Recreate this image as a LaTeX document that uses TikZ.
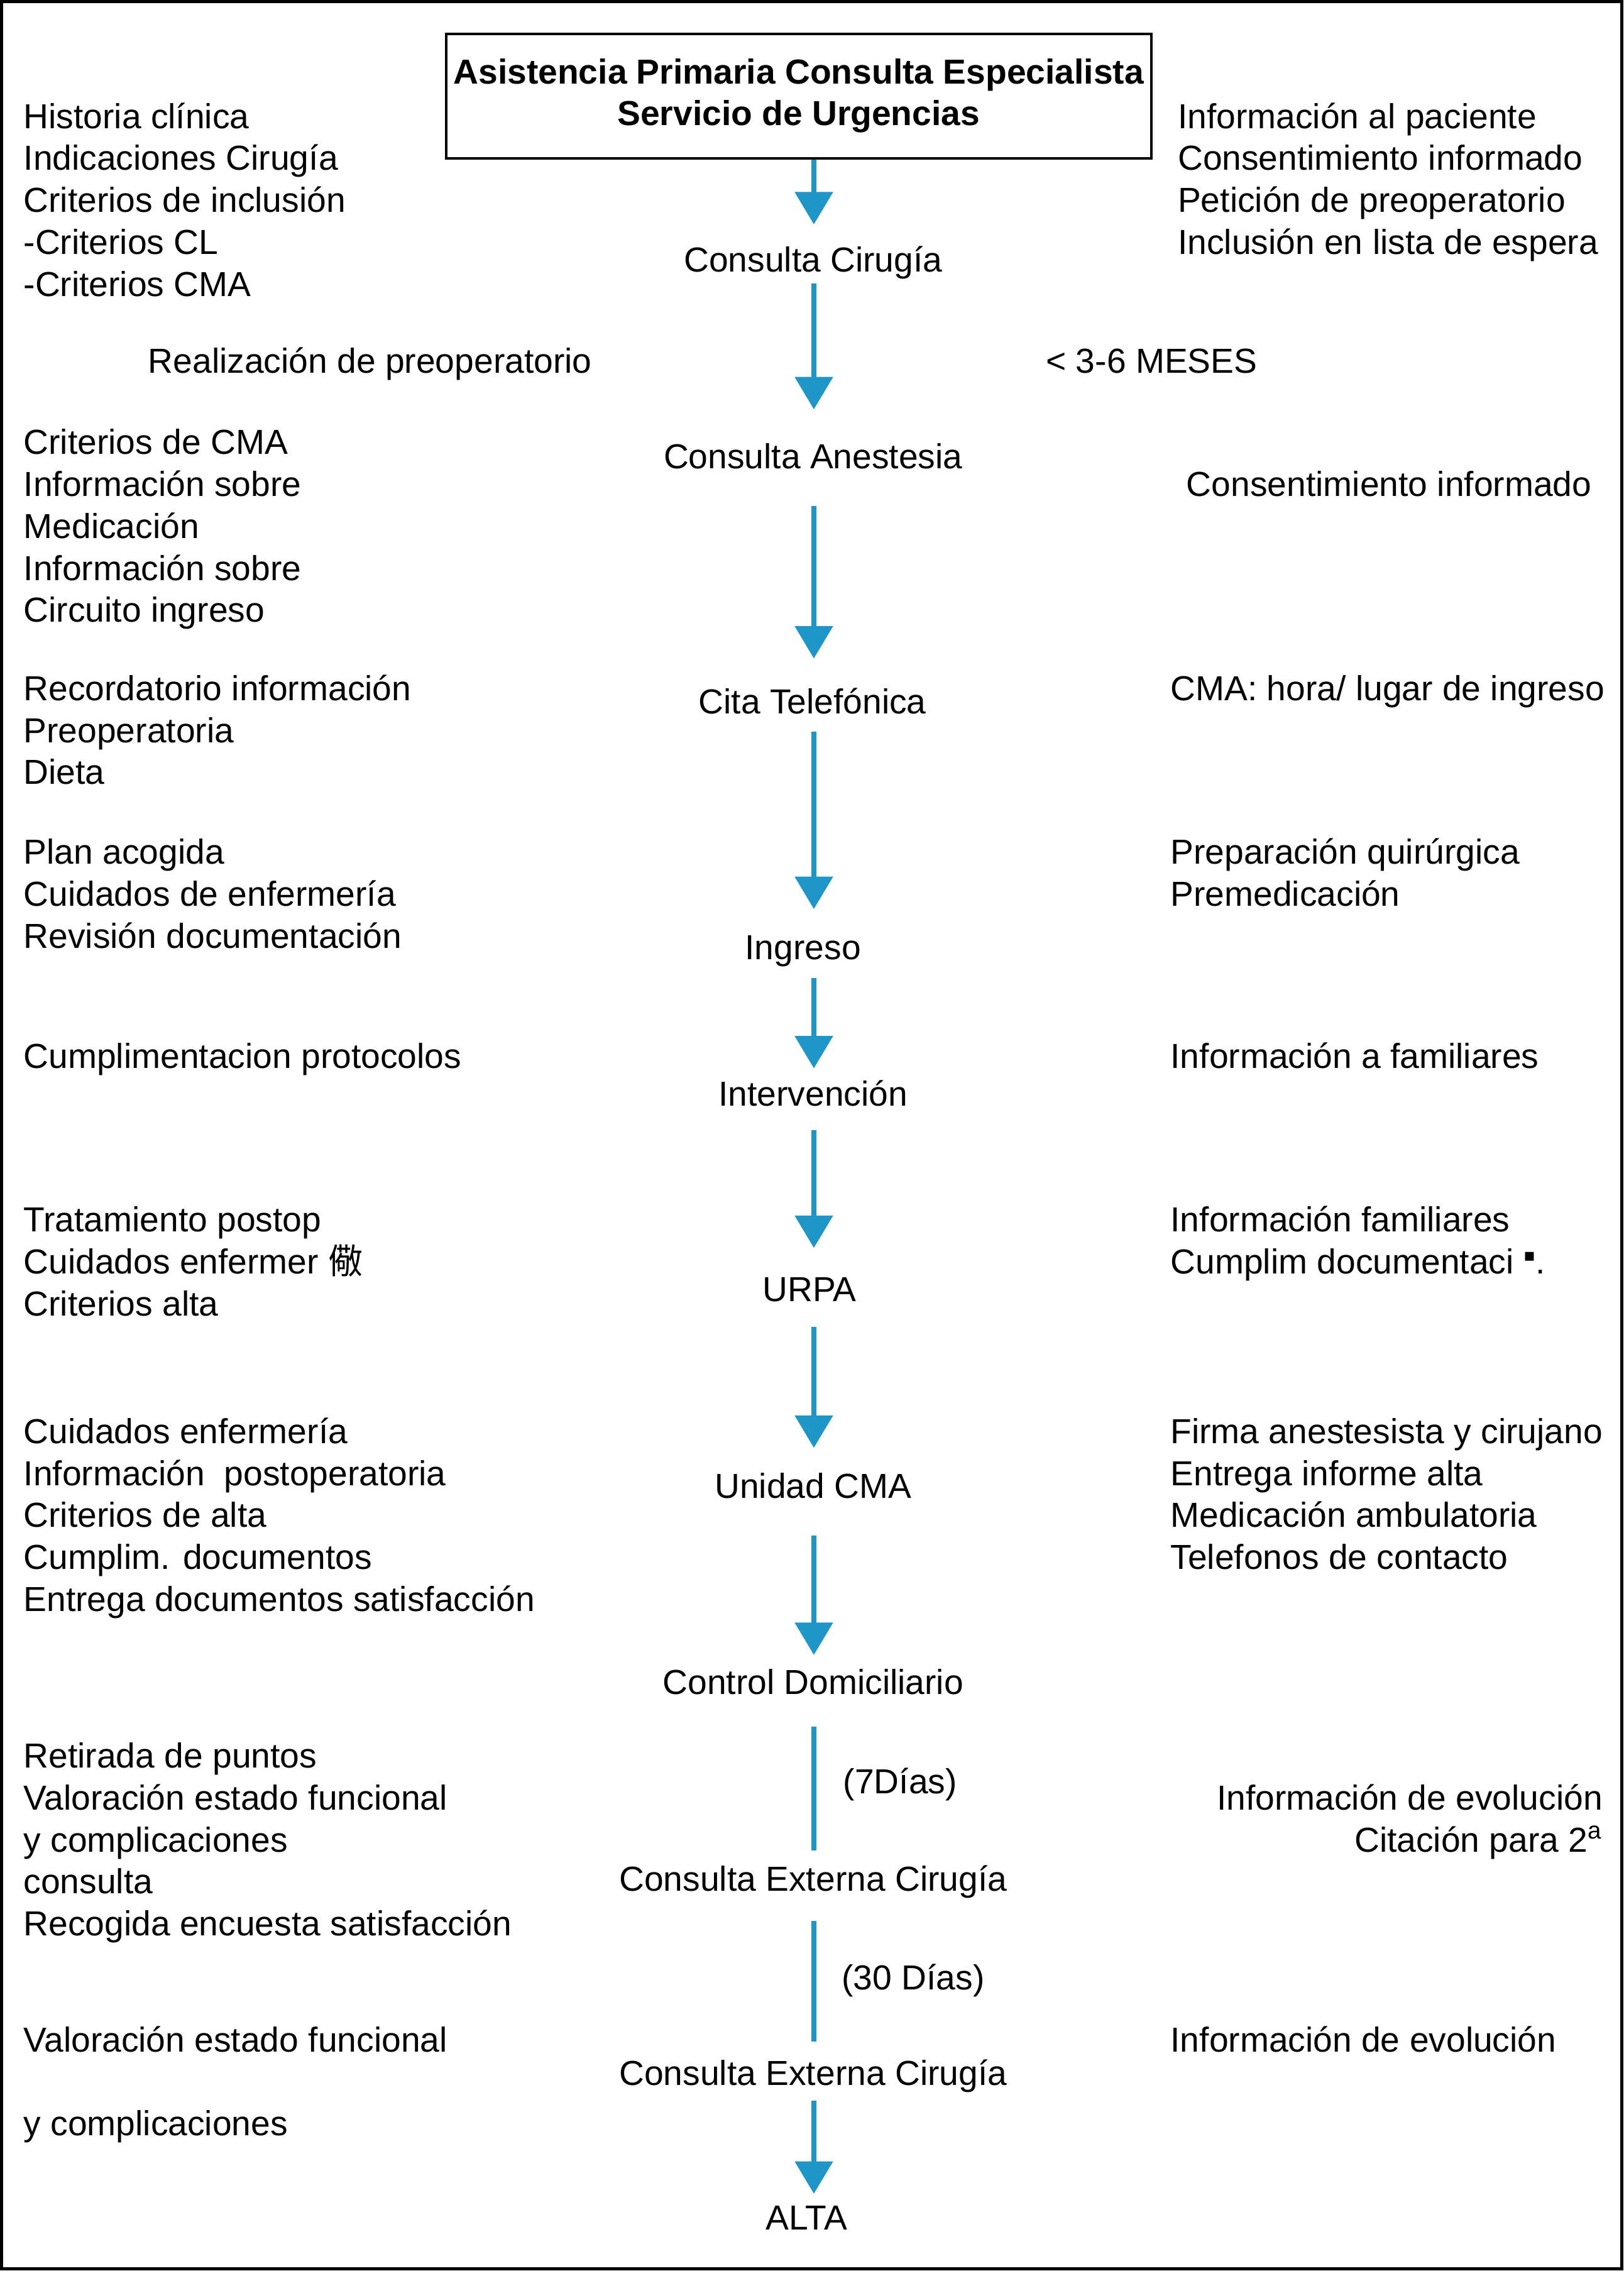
\documentclass[tikz,border=0pt]{standalone}
\usepackage{fontspec}
\setmainfont{Liberation Sans}
\newfontfamily\cjkfont{Noto Sans CJK SC}
\newfontfamily\dejavu{DejaVu Sans}
\usetikzlibrary{arrows.meta,calc}
\definecolor{flowblue}{RGB}{30,150,200}
\newdimen\ux \ux=0.576pt
\begin{document}
\begin{tikzpicture}[x=0.576pt,y=-0.576pt,
  every node/.style={inner sep=0pt, font=\fontsize{13.8pt}{16.7pt}\selectfont},
  side/.style={align=left, anchor=west, yshift=-1.6pt},
  sider/.style={align=right, anchor=east, yshift=-1.6pt},
  stage/.style={anchor=base, yshift=-4.95pt},
  topbox/.style={draw, line width=1pt, align=center, minimum width=487\ux, minimum height=86\ux, font=\fontsize{13.8pt}{16.7pt}\selectfont\bfseries},
  flowline/.style={draw=flowblue, line width=2.07pt},
  flow/.style={flowline, -{Triangle[width=14.8pt,length=12.9pt]}}
]
\useasboundingbox (0,0) rectangle (1121,1568);
\draw[line width=1.2pt] (1,1) rectangle (1120,1566.5);
\coordinate (axis) at (562,0);

% top box
\node[topbox] (top) at (551.5,66.5) {\strut Asistencia Primaria Consulta Especialista\\Servicio de Urgencias\strut};

% central stages
\node[stage] (c1) at (561.5,179) {\strut Consulta Cirugía};
\node[stage] (c2) at (561.5,315) {\strut Consulta Anestesia};
\node[stage] (c3) at (561,484) {\strut Cita Telefónica};
\node[stage] (c4) at (554.5,654) {\strut Ingreso};
\node[stage] (c5) at (561.5,755) {\strut Intervención};
\node[stage] (c6) at (559,890) {\strut URPA};
\node[stage] (c7) at (561.5,1026) {\strut Unidad CMA};
\node[stage] (c8) at (561.5,1161) {\strut Control Domiciliario};
\node[stage] (c9) at (561.5,1297) {\strut Consulta Externa Cirugía};
\node[stage] (c10) at (561.5,1431) {\strut Consulta Externa Cirugía};
\node[stage] (c11) at (557,1531) {\strut ALTA};

% connectors
\draw[flow, shorten >=12\ux] (top.south -| axis) -- (c1.north -| axis);
\draw[flow, shorten <=-1\ux, shorten >=20.3\ux] (c1.south -| axis) -- (c2.north -| axis);
\draw[flow, shorten <=16.7\ux, shorten >=17.3\ux] (c2.south -| axis) -- (c3.north -| axis);
\draw[flow, shorten <=3.7\ux, shorten >=14.3\ux] (c3.south -| axis) -- (c4.north -| axis);
\draw[flow, shorten <=3.7\ux, shorten >=5.3\ux] (c4.south -| axis) -- (c5.north -| axis);
\draw[flow, shorten <=7.7\ux, shorten >=16.3\ux] (c5.south -| axis) -- (c6.north -| axis);
\draw[flow, shorten <=8.7\ux, shorten >=14.3\ux] (c6.south -| axis) -- (c7.north -| axis);
\draw[flow, shorten <=16.7\ux, shorten >=6.3\ux] (c7.south -| axis) -- (c8.north -| axis);
\draw[flowline, shorten <=13.7\ux, shorten >=7.3\ux] (c8.south -| axis) -- (c9.north -| axis);
\draw[flowline, shorten <=11.7\ux, shorten >=9.3\ux] (c9.south -| axis) -- (c10.north -| axis);
\draw[flow, shorten <=1.7\ux, shorten >=4.3\ux] (c10.south -| axis) -- (c11.north -| axis);

% interval labels
\node[side] (d7) at (582,1230) {\strut(7Días)\strut};
\node[side] (d30) at (581,1365) {\strut(30 Días)\strut};

% left column
\node[side] (l1) at (16,138) {\strut Historia clínica\\Indicaciones Cirugía\\Criterios de inclusión\\-Criterios CL\\-Criterios CMA\strut};
\node[side] (l2) at (102,249) {\strut Realización de preoperatorio\strut};
\node[side] (l3) at (16,363) {\strut Criterios de CMA\\Información sobre\\Medicación\\Información sobre\\Circuito ingreso\strut};
\node[side] (l4) at (16,504) {\strut Recordatorio información\\Preoperatoria\\Dieta\strut};
\node[side] (l5) at (16,617) {\strut Plan acogida\\Cuidados de enfermería\\Revisión documentación\strut};
\node[side] (l6) at (16,729) {\strut Cumplimentacion protocolos\strut};
\node[side] (l7) at (16,871) {\strut Tratamiento postop\\Cuidados enfermer {\cjkfont 儆}\\Criterios alta\strut};
\node[side] (l8) at (16,1046) {\strut Cuidados enfermería\\Información\ \ postoperatoria\\Criterios de alta\\Cumplim. documentos\\Entrega documentos satisfacción\strut};
\node[side] (l9) at (16,1270) {\strut Retirada de puntos\\Valoración estado funcional\\y complicaciones\\consulta\\Recogida encuesta satisfacción\strut};
\node[side] (l10) at (16,1408) {\strut Valoración estado funcional\strut};
\node[side] (l11) at (16,1466) {\strut y complicaciones\strut};

% right column
\node[side] (r1) at (813,123.5) {\strut Información al paciente\\Consentimiento informado\\Petición de preoperatorio\\Inclusión en lista de espera\strut};
\node[side] (r2) at (722,249) {\strut < 3-6 MESES\strut};
\node[side] (r3) at (819,334) {\strut Consentimiento informado\strut};
\node[side] (r4) at (808,475) {\strut CMA: hora/ lugar de ingreso\strut};
\node[side] (r5) at (808,602.5) {\strut Preparación quirúrgica\\Premedicación\strut};
\node[side] (r6) at (808,729) {\strut Información a familiares\strut};
\node[side] (r7) at (808,856.5) {\strut Información familiares\\Cumplim documentaci {\dejavu\raisebox{0.36em}{\scriptsize ▪}}.\strut};
\node[side] (r8) at (808,1031.5) {\strut Firma anestesista y cirujano\\Entrega informe alta\\Medicación ambulatoria\\Telefonos de contacto\strut};
\node[sider] (r9) at (1107,1255.5) {\strut Información de evolución\\Citación para 2\textsuperscript{a}\strut};
\node[side] (r10) at (808,1408) {\strut Información de evolución\strut};
\end{tikzpicture}
\end{document}
